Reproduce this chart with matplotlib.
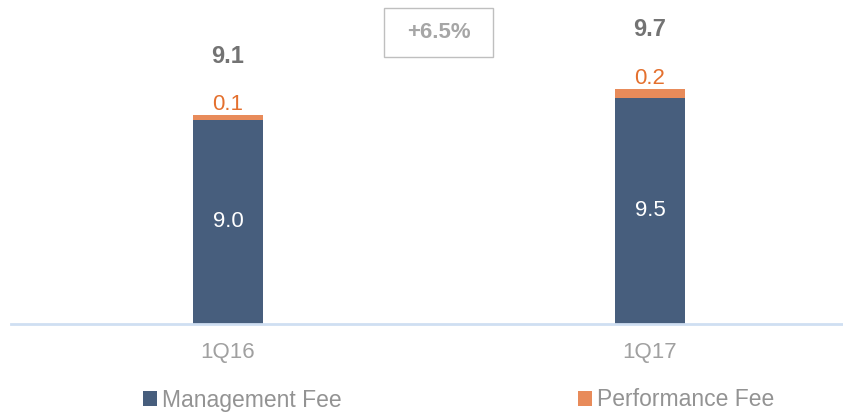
import numpy as np
import matplotlib.pyplot as plt
from matplotlib.patches import Rectangle

plt.rcParams["font.family"] = ["Liberation Sans", "DejaVu Sans"]

# Data
quarters = ["1Q16", "1Q17"]
mgmt_fee = [9.0, 9.5]
perf_fee = [0.1, 0.2]
totals = [9.1, 9.7]
growth_label = "+6.5%"

BLUE = "#475e7d"
ORANGE = "#e88b5a"
ORANGE_TXT = "#e4702e"
GREY_TXT = "#939393"

fig = plt.figure(figsize=(8.43, 4.12), dpi=100)
ax = fig.add_axes([11 / 843, 88 / 412, 1 - 11 / 843, 324 / 412])

x = np.arange(len(quarters))
width = 0.166
y0 = 4.4
mg = np.array(mgmt_fee)
pf = np.array(perf_fee)

b1 = ax.bar(x, mg - y0, width, bottom=y0, color=BLUE, label="Management Fee")
b2 = ax.bar(x, pf, width, bottom=mg, color=ORANGE, label="Performance Fee")

ax.set_ylim(y0, y0 + 324 / 44.4)
ax.set_xlim(-217 / 422, 615 / 422)

for i in range(len(x)):
    ax.text(x[i], (y0 + mg[i]) / 2, f"{mgmt_fee[i]:.1f}", ha="center", va="center",
            color="white", fontsize=16)
    top = mg[i] + pf[i]
    ax.annotate(f"{perf_fee[i]:.1f}", (x[i], top), xytext=(0, 0), textcoords="offset points",
                ha="center", va="bottom", color=ORANGE_TXT, fontsize=16)
    ax.annotate(f"{totals[i]:.1f}", (x[i], top), xytext=(0, 34), textcoords="offset points",
                ha="center", va="bottom", color="#737373", fontsize=17, fontweight="bold")

# growth box
fig.patches.append(Rectangle((384 / 843, 1 - 57 / 412), 109 / 843, 49 / 412,
                             transform=fig.transFigure, fill=False,
                             edgecolor="#bfbfbf", lw=1.0))
fig.text(438.5 / 843, 1 - 33 / 412, growth_label, ha="center", va="center",
         color="#a6a6a6", fontsize=16, fontweight="bold")

for s in ["top", "right", "left"]:
    ax.spines[s].set_visible(False)
ax.spines["bottom"].set_color("#cfdff2")
ax.spines["bottom"].set_linewidth(2)
ax.set_yticks([])
ax.set_xticks(x)
ax.set_xticklabels(quarters, color="#a0a0a0", fontsize=16)
ax.tick_params(axis="x", length=0, pad=13)

fig.legend(handles=[b1, b2], loc="center left", bbox_to_anchor=(134 / 843, 1 - 400 / 412),
           ncol=2, frameon=False, fontsize=16.5, handlelength=0.6, handleheight=0.6,
           handletextpad=0.2, columnspacing=10.35, labelcolor=GREY_TXT, borderaxespad=0)

fig.savefig("out.png", dpi=100)
